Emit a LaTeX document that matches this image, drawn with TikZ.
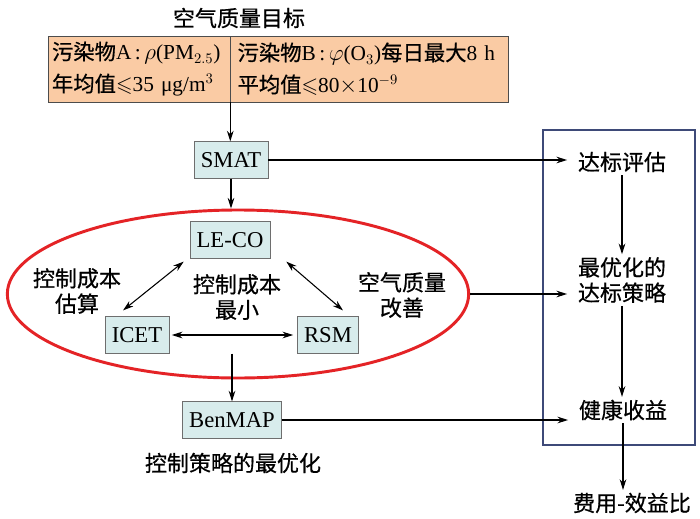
\documentclass[tikz,border=0pt]{standalone}
\usepackage{amssymb}
\usepackage{fontspec}
\setmainfont{Noto Sans CJK SC}[FakeBold=0.6]
\newfontfamily\tnr{Liberation Serif}
\usetikzlibrary{arrows.meta,shapes.geometric,calc}

\definecolor{goalfill}{RGB}{250,203,164}
\definecolor{toolfill}{RGB}{216,236,236}
\definecolor{toolline}{RGB}{110,110,110}
\definecolor{panelline}{RGB}{62,74,120}
\definecolor{ovalred}{RGB}{228,35,38}

\tikzset{
  tool/.style={draw=toolline, fill=toolfill, font=\tnr\fontsize{17}{20}\selectfont, minimum height=27.5pt, inner xsep=5pt},
  goalcell/.style={draw=black!70, fill=goalfill, minimum height=49.5pt, align=left, inner xsep=3pt, font=\fontsize{16}{24}\selectfont},
  lbl/.style={align=center, inner sep=2pt},
  flow/.style={line width=0.8pt, -{Stealth[length=8pt,width=5pt]}},
  both/.style={line width=0.8pt, {Stealth[length=8pt,width=5pt]}-{Stealth[length=8pt,width=5pt]}}
}

\begin{document}
\begin{tikzpicture}[x=0.75pt, y=-0.75pt, font=\fontsize{16.5}{19}\selectfont]
\path[use as bounding box, fill=white] (0,0) rectangle (700,518);

% air quality targets
\node[lbl] (title) at (239,18) {空气质量目标};
\node[goalcell, text width=130.5pt] (goalA) at (139,69)
  {\mbox{污染物{\tnr A\,:\,$\rho$(PM$_{2.5}$)}}\\ \mbox{年均值$\leqslant${\tnr 35 μg/m$^3$}}};
\node[goalcell, text width=202.5pt] (goalB) at (369,69)
  {\mbox{\,污染物{\tnr B\,:\,$\varphi$(O$_3$)}每日最大{\tnr 8 h}}\\ \mbox{\,平均值$\leqslant${\tnr 80}$\times${\tnr 10}$^{-9}$}};

% models
\node[tool] (smat) at (231,160) {SMAT};
\node[tool] (leco) at (230,240) {LE-CO};
\node[tool] (icet) at (137,335) {ICET};
\node[tool] (rsm) at (328,335) {RSM};
\node[tool] (benmap) at (232,420) {BenMAP};

% red oval
\node[ellipse, draw=ovalred, line width=2.2pt, minimum width=346pt, minimum height=126pt, inner sep=0pt] (oval) at (238,294) {};
\node[lbl] (costest) at (77,291) {控制成本\\估算};
\node[lbl] (mincost) at (237,297) {控制成本\\最小};
\node[lbl] (airimp) at (402,295) {空气质量\\改善};
\node[lbl] (optim) at (233,463) {控制策略的最优化};

% results panel
\node[draw=panelline, line width=1.6pt, minimum width=114pt, minimum height=236pt] (panel) at (619,287.5) {};
\node[lbl] (eval) at (622,162) {达标评估};
\node[lbl] (strategy) at (622,280) {最优化的\\达标策略};
\node[lbl] (health) at (623,410) {健康收益};
\node[lbl] (ratio) at (632,503) {费用-效益比};

% arrows
\draw[flow] (goalA.south east) -- (goalA.south east |- smat.north);
\draw[flow] (smat.south) -- (smat.south |- oval.north);
\draw[flow] (benmap.north |- icet.south) -- (benmap.north);
\draw[both] ($(leco.south west)+(-6,3)$) -- ($(icet.north)+(-14,-6)$);
\draw[both] ($(leco.south east)+(16,3)$) -- ($(rsm.north)+(15,-6)$);
\draw[both, shorten <=2pt, shorten >=3pt] (icet.east) -- (rsm.west);
\draw[flow, shorten >=6pt] (smat.east) -- (smat.east -| eval.west);
\draw[flow, shorten >=6pt] (oval.east) -- (oval.east -| strategy.west);
\draw[flow, shorten >=6pt] (benmap.east) -- (benmap.east -| health.west);
\draw[flow] (eval.south) -- (eval.south |- strategy.north);
\draw[flow] (strategy.south) -- (strategy.south |- health.north);
\draw[flow] (health.south) -- (health.south |- ratio.north);

\end{tikzpicture}
\end{document}
